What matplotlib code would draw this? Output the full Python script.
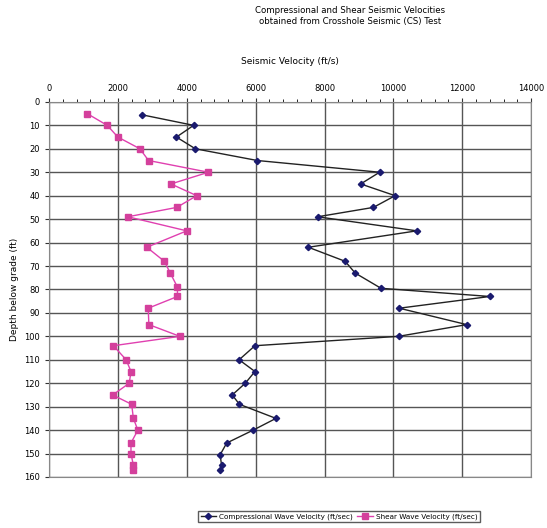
import matplotlib
matplotlib.use('Agg')
import matplotlib.pyplot as plt
from matplotlib.ticker import MultipleLocator

# compressional wave (P) readings: depth below grade (ft) and velocity (ft/s)
p_depth = [5.5, 10, 15, 20, 25, 30, 35, 40, 45, 49, 55, 62, 68, 73, 79.5, 83, 88, 95, 100,
           104, 110, 115, 120, 125, 129, 135, 140, 145.5, 150.5, 155, 157]
p_vel = [2700, 4200, 3700, 4250, 6050, 9600, 9050, 10050, 9420, 7800, 10680, 7530, 8600,
         8890, 9640, 12800, 10170, 12130, 10150,
         5980, 5520, 5980, 5700, 5320, 5530, 6590, 5930, 5160, 4970, 5010, 4970]

# shear wave (S) readings
s_depth = [5, 10, 15, 20, 25, 30, 35, 40, 45, 49, 55, 62, 68, 73, 79, 83, 88, 95, 100,
           104, 110, 115, 120, 125, 129, 135, 140, 145.5, 150, 155, 157]
s_vel = [1110, 1690, 2000, 2640, 2890, 4630, 3540, 4290, 3710, 2290, 4000, 2840, 3350,
         3520, 3730, 3730, 2880, 2900, 3800,
         1870, 2240, 2380, 2330, 1850, 2400, 2450, 2580, 2380, 2380, 2450, 2450]

x_ticks = list(range(0, 14001, 2000))
y_ticks = list(range(0, 161, 10))

fig = plt.figure(figsize=(5.47, 5.28), dpi=100)
ax = fig.add_axes([0.0896, 0.0966, 0.8814, 0.7104])

ax.plot(p_vel, p_depth, color='#222222', lw=1.0, marker='D', ms=3.2,
        mfc='#1a1a6e', mec='#1a1a6e', label='Compressional Wave Velocity (ft/sec)')
ax.plot(s_vel, s_depth, color='#e040b0', lw=1.0, marker='s', ms=3.8,
        mfc='#d4409c', mec='#d4409c', label='Shear Wave Velocity (ft/sec)')

ax.set_xlim(0, 14000)
ax.set_ylim(160, 0)
ax.set_xticks(x_ticks)
ax.set_yticks(y_ticks)
ax.xaxis.set_minor_locator(MultipleLocator(400))
ax.xaxis.tick_top()
ax.xaxis.set_label_position('top')
ax.tick_params(axis='both', which='major', labelsize=6, length=3, color='#333333')
ax.tick_params(axis='x', which='minor', length=2, top=True, bottom=False)
ax.grid(True, which='major', color='#555555', lw=1.0)
ax.set_axisbelow(True)
for s in ax.spines.values():
    s.set_color('#888888')
    s.set_linewidth(0.8)

ax.set_xlabel('Seismic Velocity (ft/s)', fontsize=6.5, labelpad=14)
ax.set_ylabel('Depth below grade (ft)', fontsize=6.5, labelpad=4)

fig.text(0.64, 0.988, 'Compressional and Shear Seismic Velocities\nobtained from Crosshole Seismic (CS) Test',
         ha='center', va='top', fontsize=6.2)

fig.legend(loc='center', bbox_to_anchor=(0.62, 0.021), ncol=2, fontsize=5.2,
           frameon=True, fancybox=False, edgecolor='#333333', handlelength=2.2,
           columnspacing=0.6, borderpad=0.3, handletextpad=0.4)

fig.savefig('out.png', dpi=100)
